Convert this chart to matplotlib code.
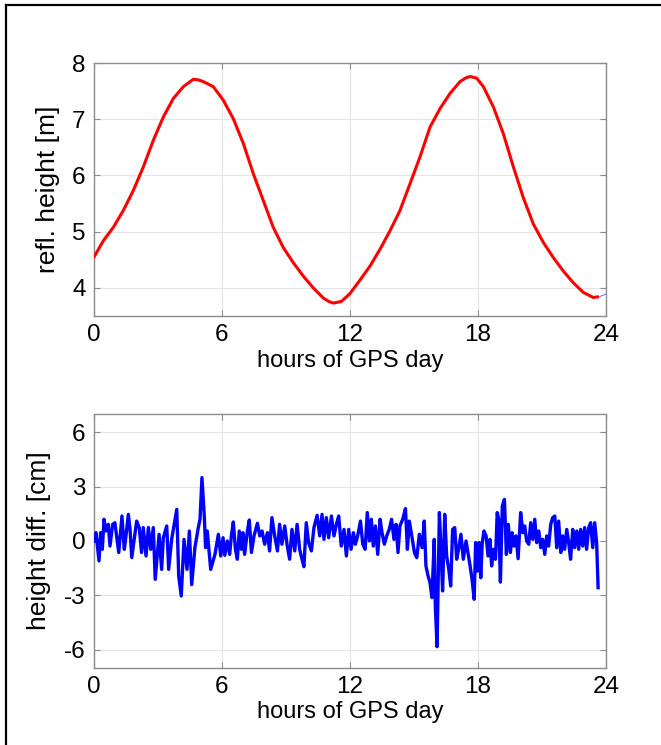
import matplotlib.pyplot as plt
from matplotlib.lines import Line2D

plt.rcParams['font.family'] = ['Liberation Sans', 'DejaVu Sans']
plt.rcParams['axes.unicode_minus'] = False

red = '#ff0000'
blue = '#0000ff'
gray = '#8c8c8c'

# reflector height over the day (hours, metres)
hours = [0, 0.44, 0.91, 1.37, 1.84, 2.31, 2.78, 3.25, 3.72, 4.19, 4.65, 4.9, 5.12,
         5.59, 6.06, 6.53, 7.0, 7.47, 7.94, 8.4, 8.87, 9.34, 9.81, 10.28, 10.75,
         11.0, 11.22, 11.6, 12.0, 12.47, 12.94, 13.41, 13.88, 14.34, 14.81, 15.28,
         15.75, 16.22, 16.69, 17.16, 17.45, 17.63, 17.94, 18.25, 18.72, 19.19,
         19.66, 20.12, 20.59, 21.06, 21.53, 22.0, 22.47, 22.94, 23.4, 23.6]
height = [4.55, 4.84, 5.08, 5.375, 5.73, 6.15, 6.625, 7.04, 7.37, 7.58, 7.71, 7.70, 7.67,
          7.58, 7.34, 7.01, 6.57, 6.03, 5.55, 5.08, 4.72, 4.45, 4.21, 4.0, 3.82,
          3.76, 3.73, 3.76, 3.9, 4.14, 4.39, 4.69, 5.02, 5.375, 5.85, 6.33,
          6.86, 7.19, 7.46, 7.67, 7.74, 7.76, 7.73, 7.58, 7.22, 6.74,
          6.15, 5.61, 5.14, 4.81, 4.54, 4.30, 4.09, 3.92, 3.83, 3.84]
tail_hours = [23.6, 24.0]
tail_height = [3.83, 3.89]

# height difference (hours, cm)
diff_hours = [0, 0.094, 0.234, 0.31, 0.39, 0.47, 0.56, 0.67, 0.75, 0.875, 0.98, 1.06,
              1.16, 1.31, 1.42, 1.5, 1.61, 1.69, 1.77, 2.0, 2.12, 2.23, 2.31, 2.44,
              2.55, 2.66, 2.78, 2.87, 3.05, 3.17, 3.25, 3.41, 3.5, 3.64, 3.88, 3.97,
              4.09, 4.22, 4.36, 4.47, 4.58, 4.73, 4.89, 4.97, 5.06, 5.17, 5.23, 5.31,
              5.47, 5.67, 5.83,
              5.94, 6.05, 6.13, 6.25, 6.36, 6.44, 6.53, 6.63, 6.72, 6.81, 6.91, 6.98,
              7.06, 7.19, 7.28, 7.38, 7.5, 7.66, 7.77, 7.88, 8.0, 8.13, 8.23, 8.34,
              8.47, 8.6, 8.7, 8.81, 8.94, 9.06, 9.17, 9.28, 9.41, 9.52, 9.64, 9.75,
              9.84, 9.95, 10.06, 10.19, 10.31, 10.46, 10.58, 10.69, 10.78, 10.89,
              11.0, 11.13, 11.25, 11.36, 11.47, 11.59, 11.72, 11.83,
              11.94, 12.05, 12.16, 12.25, 12.36, 12.49, 12.6, 12.71, 12.81, 12.91,
              13.0, 13.09, 13.19, 13.3, 13.41, 13.5, 13.61, 13.72, 13.84, 13.95,
              14.06, 14.16, 14.25, 14.34, 14.47, 14.6, 14.69, 14.78, 14.91, 15.02,
              15.13, 15.25, 15.38, 15.48, 15.56, 15.66, 15.75, 15.84, 15.95, 16.0,
              16.08, 16.19, 16.27, 16.34, 16.44, 16.53, 16.63, 16.72, 16.81, 16.91,
              17.0, 17.09, 17.2, 17.31, 17.44, 17.53, 17.63, 17.72,
              17.82, 17.89, 17.97, 18.05, 18.13, 18.2, 18.28, 18.38, 18.47, 18.56,
              18.64, 18.72, 18.82, 18.9, 18.97, 19.05, 19.14, 19.24, 19.33, 19.42,
              19.52, 19.6, 19.69, 19.78, 19.88, 20.0, 20.1, 20.19, 20.28, 20.38,
              20.47, 20.57, 20.66, 20.75, 20.85, 20.94, 21.03, 21.13, 21.22, 21.31,
              21.41, 21.5, 21.6, 21.69, 21.78, 21.88, 21.97, 22.06, 22.16, 22.25,
              22.34, 22.44, 22.53, 22.63, 22.72, 22.81, 22.91, 23.0, 23.09, 23.19,
              23.28, 23.38, 23.47, 23.56, 23.63]
diff_cm = [0, 0.46, -1.1, 0.46, -0.46, 1.2, 0.55, 0.92, -0.28, 0.92, 1.01, 0.28,
           -0.64, 1.38, -0.46, 0.28, 1.47, 0.64, -0.92, 1.1, 0.74, -0.64, 0.74, -0.83,
           0.74, -0.46, 0.74, -2.12, 0.37, -1.57, 0.18, 0.83, -1.57, 0.09, 1.75, -1.93,
           -3.04, 0.09, -1.57, 0.55, -2.41, -0.37, 0.74, 1.2, 3.5, 1.38, -0.37, 0.55,
           -1.57, -0.74, 0.37,
           -0.83, 0.18, -0.79, 0, -0.74, 0.28, 1.05, -0.46, -1.01, 0.55, -0.46, 0.46,
           -0.74, 0.55, 1.16, -0.64, 0.28, 0.98, 0.28, 0.55, -0.18, 0.46, -0.55, 1.29,
           0.28, -0.55, 0.92, -0.18, 0.83, -0.28, -1.01, 0.64, -0.55, 0.92, -0.46, -1.01,
           -1.42, 1.01, -0.09, -0.55, 0.74, 1.42, 0.28, 1.47, 0.09, 1.29,
           0.18, 1.38, 0.28, 0.92, 1.38, -0.28, 0.64, -0.83,
           0.64, -0.46, 0.46, -0.18, 0.28, 1.1, -0.18, -0.46, 1.57, 0,
           1.2, -0.28, 0.83, -0.74, 1.2, 0.46, -0.18, 0.28, 0.64, 1.2,
           0.09, 0.92, -0.64, 0.83, 1.2, 1.79, -0.46, 1.1, 0.18, -0.64,
           -0.92, 0.37, -0.37, 1.1, -1.38, -1.93, -2.3, -3.13, 0.09, -3.6,
           -5.84, 1.57, -0.64, -2.76, 1.47, -0.83, -1.57, -2.49, 0.64, 0.74,
           -1.01, -0.46, 0.37, -1.01, 0, -0.64, -1.38, -2.12,
           -3.22, -0.09, -1.66, -0.09, -2.03, -0.09, 0.55, 0.28, -0.83, 0.09,
           -1.38, -0.46, -1.01, 1.57, 1.2, -2.27, 1.93, 2.3, -0.74, 0.92,
           -0.64, 0.46, -0.28, 0.28, -0.98, 1.57, 0.46, 0.83, 0, -0.18,
           1.01, 0.09, 1.2, -0.09, 0.55, -0.37, 0.09, -0.74, 0.28, -0.28,
           0.92, 1.29, 1.38, -0.37, 1.1, -0.64, 0.28, -0.46, 0.64, -0.09,
           -1.01, 0.64, -0.37, 0.55, -0.46, 0.64, -0.28, 0.74, -0.46, 0.74,
           1.01, -0.37, 1.01, -0.09, -2.58]

x_ticks = [0, 6, 12, 18, 24]

fig = plt.figure(figsize=(6.61, 7.45), dpi=100)
ax1 = fig.add_axes([0.1422, 0.5758, 0.7746, 0.3396])
ax2 = fig.add_axes([0.1422, 0.1038, 0.7746, 0.3401])

ax1.plot(hours, height, color=red, lw=2.2, zorder=3)
ax1.plot(tail_hours, tail_height, color=blue, lw=0.6, alpha=0.7, zorder=2)
ax1.set_ylim(3.5, 8)
ax1.set_yticks([4, 5, 6, 7, 8])
ax1.set_ylabel('refl. height [m]', fontsize=19)
ax1.yaxis.set_label_coords(-0.067, 0.5)

ax2.plot(diff_hours, diff_cm, color=blue, lw=2.4, zorder=3)
ax2.set_ylim(-7, 7)
ax2.set_yticks([6, 3, 0, -3, -6])
ax2.set_ylabel('height diff. [cm]', fontsize=19)
ax2.yaxis.set_label_coords(-0.084, 0.5)

for ax in (ax1, ax2):
    ax.set_xlim(0, 24)
    ax.set_xticks(x_ticks)
    ax.set_xlabel('hours of GPS day', fontsize=17, labelpad=2.5)
    ax.grid(True, color='#e4e4e4', lw=0.8)
    ax.set_axisbelow(True)
    ax.tick_params(direction='in', length=4, width=0.8, color=gray,
                   top=True, right=True, labelsize=17.5, pad=6)
    for sp in ax.spines.values():
        sp.set_color(gray)
        sp.set_linewidth(1.0)

# figure frame (top and left edges)
fig.add_artist(Line2D([6 / 661, 6 / 661], [0, 1 - 5 / 745], color='k', lw=1.6,
                      transform=fig.transFigure))
fig.add_artist(Line2D([6 / 661, 1], [1 - 5 / 745, 1 - 5 / 745], color='k', lw=1.6,
                      transform=fig.transFigure))

fig.savefig('out.png', dpi=100)
